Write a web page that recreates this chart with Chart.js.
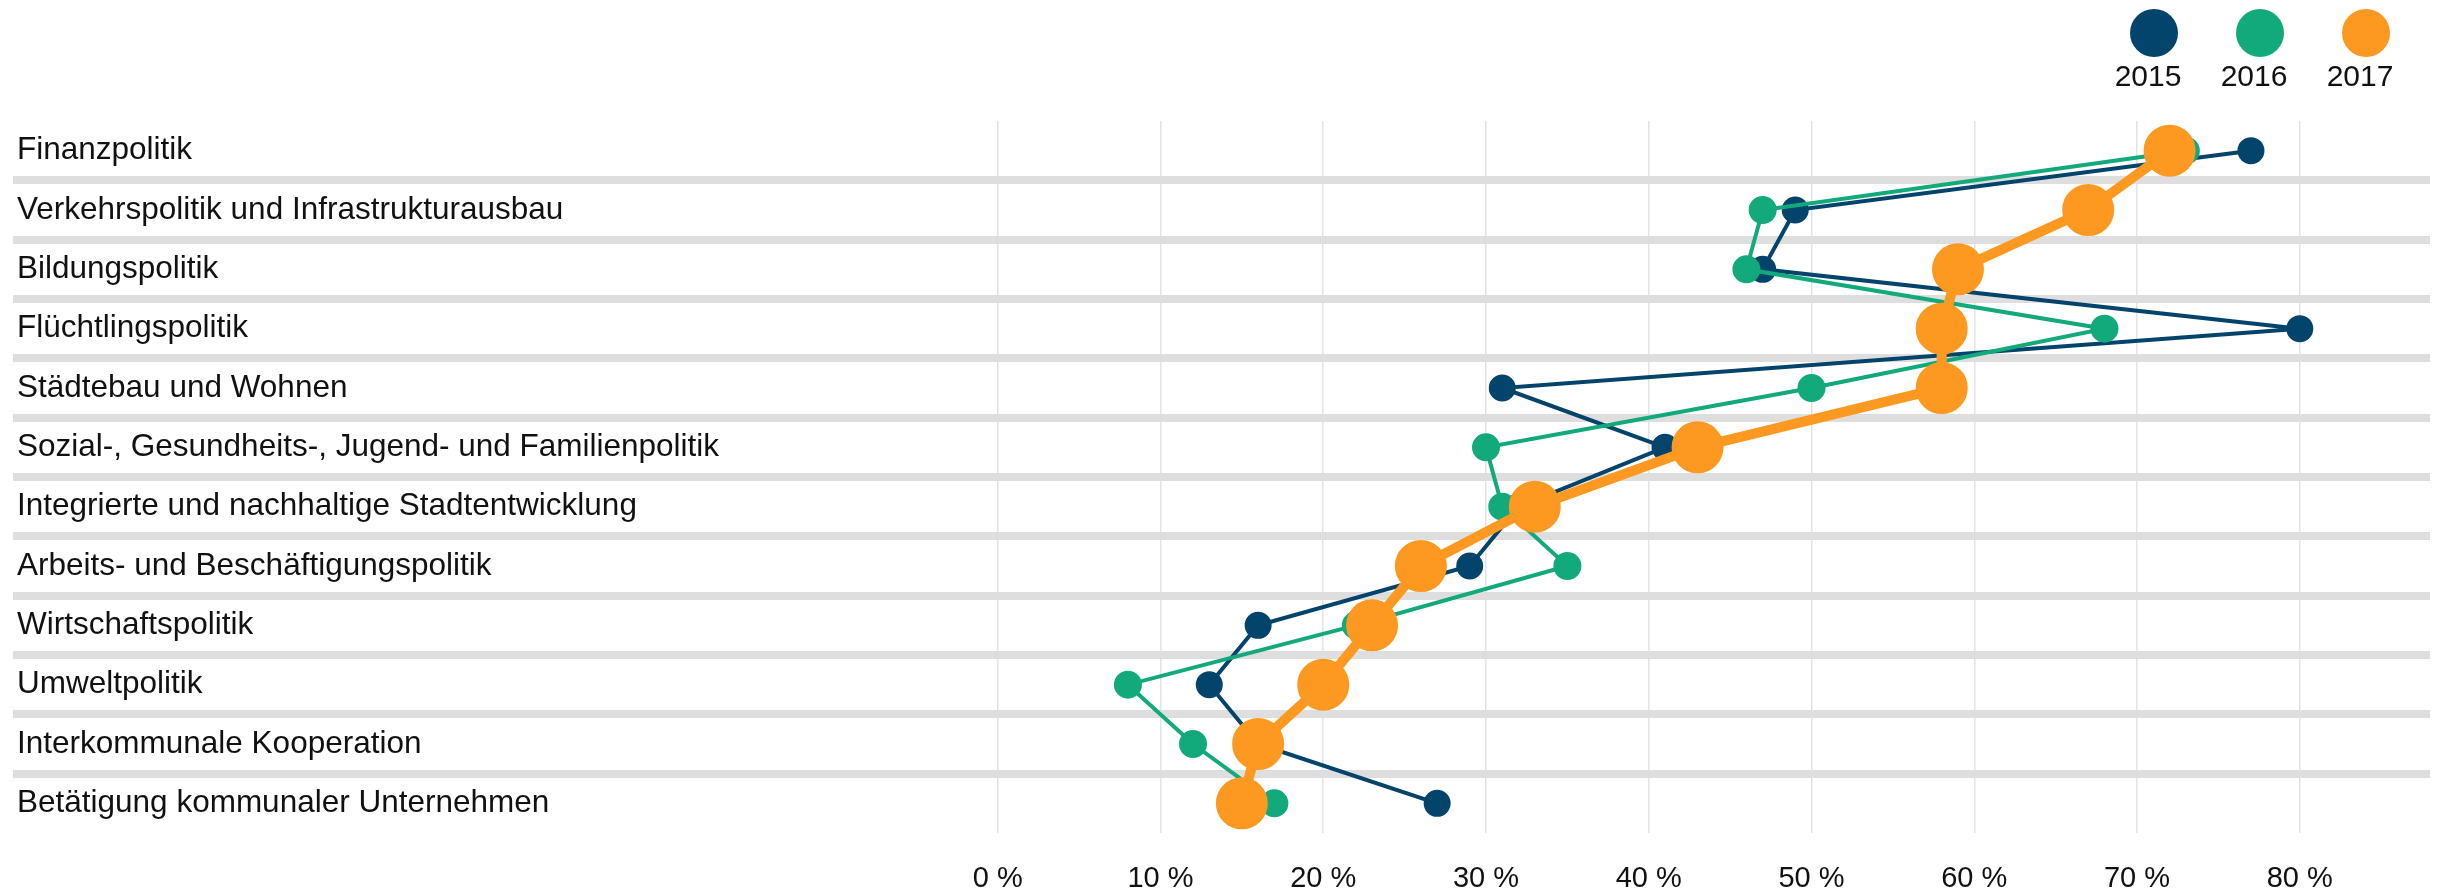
<!DOCTYPE html>
<html>
<head>
<meta charset="utf-8">
<script src="https://cdn.jsdelivr.net/npm/chart.js@4"></script>
<style>
  html, body { margin: 0; padding: 0; background: #fff; }
  #wrap { position: relative; width: 2448px; height: 893px; }
  #legend { position: absolute; top: 9px; right: 29px; display: flex; font-family: "Liberation Sans", Arial, sans-serif; }
  .item { width: 106px; display: flex; flex-direction: column; align-items: center; }
  .dot { width: 48px; height: 48px; border-radius: 50%; }
  .lbl { font-size: 30px; color: #111; margin-top: 2px; margin-right: 12px; }
</style>
</head>
<body>
<div id="wrap">
  <canvas id="chart"></canvas>
  <div id="legend"></div>
</div>
<script>
const categories = [
  'Finanzpolitik',
  'Verkehrspolitik und Infrastrukturausbau',
  'Bildungspolitik',
  'Flüchtlingspolitik',
  'Städtebau und Wohnen',
  'Sozial-, Gesundheits-, Jugend- und Familienpolitik',
  'Integrierte und nachhaltige Stadtentwicklung',
  'Arbeits- und Beschäftigungspolitik',
  'Wirtschaftspolitik',
  'Umweltpolitik',
  'Interkommunale Kooperation',
  'Betätigung kommunaler Unternehmen'
];
const years = ['2015', '2016', '2017'];
const values2015 = [77, 49, 47, 80, 31, 41, 32, 29, 16, 13, 16, 27];
const values2016 = [73, 47, 46, 68, 50, 30, 31, 35, 22, 8, 12, 17];
const values2017 = [72, 67, 59, 58, 58, 43, 33, 26, 23, 20, 16, 15];
const xTicks = [0, 10, 20, 30, 40, 50, 60, 70, 80];

const colors = ['#02446b', '#12a97b', '#fd9921'];
const font = '"Liberation Sans", Arial, sans-serif';

const datasets = [
  { label: years[0], data: values2015, borderColor: colors[0], backgroundColor: colors[0],
    borderWidth: 4, pointRadius: 11.5, pointHoverRadius: 11.5, order: 2 },
  { label: years[1], data: values2016, borderColor: colors[1], backgroundColor: colors[1],
    borderWidth: 4, pointRadius: 12, pointHoverRadius: 12, order: 1 },
  { label: years[2], data: values2017, borderColor: colors[2], backgroundColor: colors[2],
    borderWidth: 10, pointRadius: 21, pointHoverRadius: 21, order: 0 }
];

// grid line beyond the last tick gets the scale context (no index)
const bandColor = c => (c.type !== 'tick' || c.index === 0) ? 'rgba(0,0,0,0)' : '#dedede';

const chart = new Chart(document.getElementById('chart'), {
  type: 'line',
  data: { labels: categories, datasets: datasets },
  options: {
    indexAxis: 'y',
    responsive: true,
    maintainAspectRatio: false,
    animation: false,
    layout: { autoPadding: false, padding: { top: 121, right: 18, left: 13, bottom: 0 } },
    elements: {
      line: { tension: 0 },
      point: { borderWidth: 0 }
    },
    plugins: { legend: { display: false }, tooltip: { enabled: false } },
    scales: {
      x: {
        type: 'linear',
        min: -60.5,
        max: 88,
        afterBuildTicks: axis => { axis.ticks = xTicks.map(v => ({ value: v })); },
        afterFit: axis => { axis.height = 60; },
        border: { display: false },
        grid: { color: '#e3e3e3', lineWidth: 1.5, drawTicks: false },
        ticks: {
          padding: 29,
          color: '#111',
          font: { family: font, size: 29 },
          callback: v => v + ' %'
        }
      },
      y: {
        type: 'category',
        offset: true,
        afterFit: axis => { axis.width = 0; },
        border: { display: false },
        grid: {
          offset: true,
          drawTicks: false,
          lineWidth: 8,
          color: bandColor
        },
        ticks: {
          mirror: true,
          padding: 4,
          color: '#111',
          font: { family: font, size: 31.5 }
        }
      }
    }
  }
});

const legend = document.getElementById('legend');
datasets.forEach(ds => {
  const item = document.createElement('div');
  item.className = 'item';
  item.innerHTML = '<div class="dot" style="background:' + ds.backgroundColor + '"></div><div class="lbl">' + ds.label + '</div>';
  legend.appendChild(item);
});
</script>
</body>
</html>
